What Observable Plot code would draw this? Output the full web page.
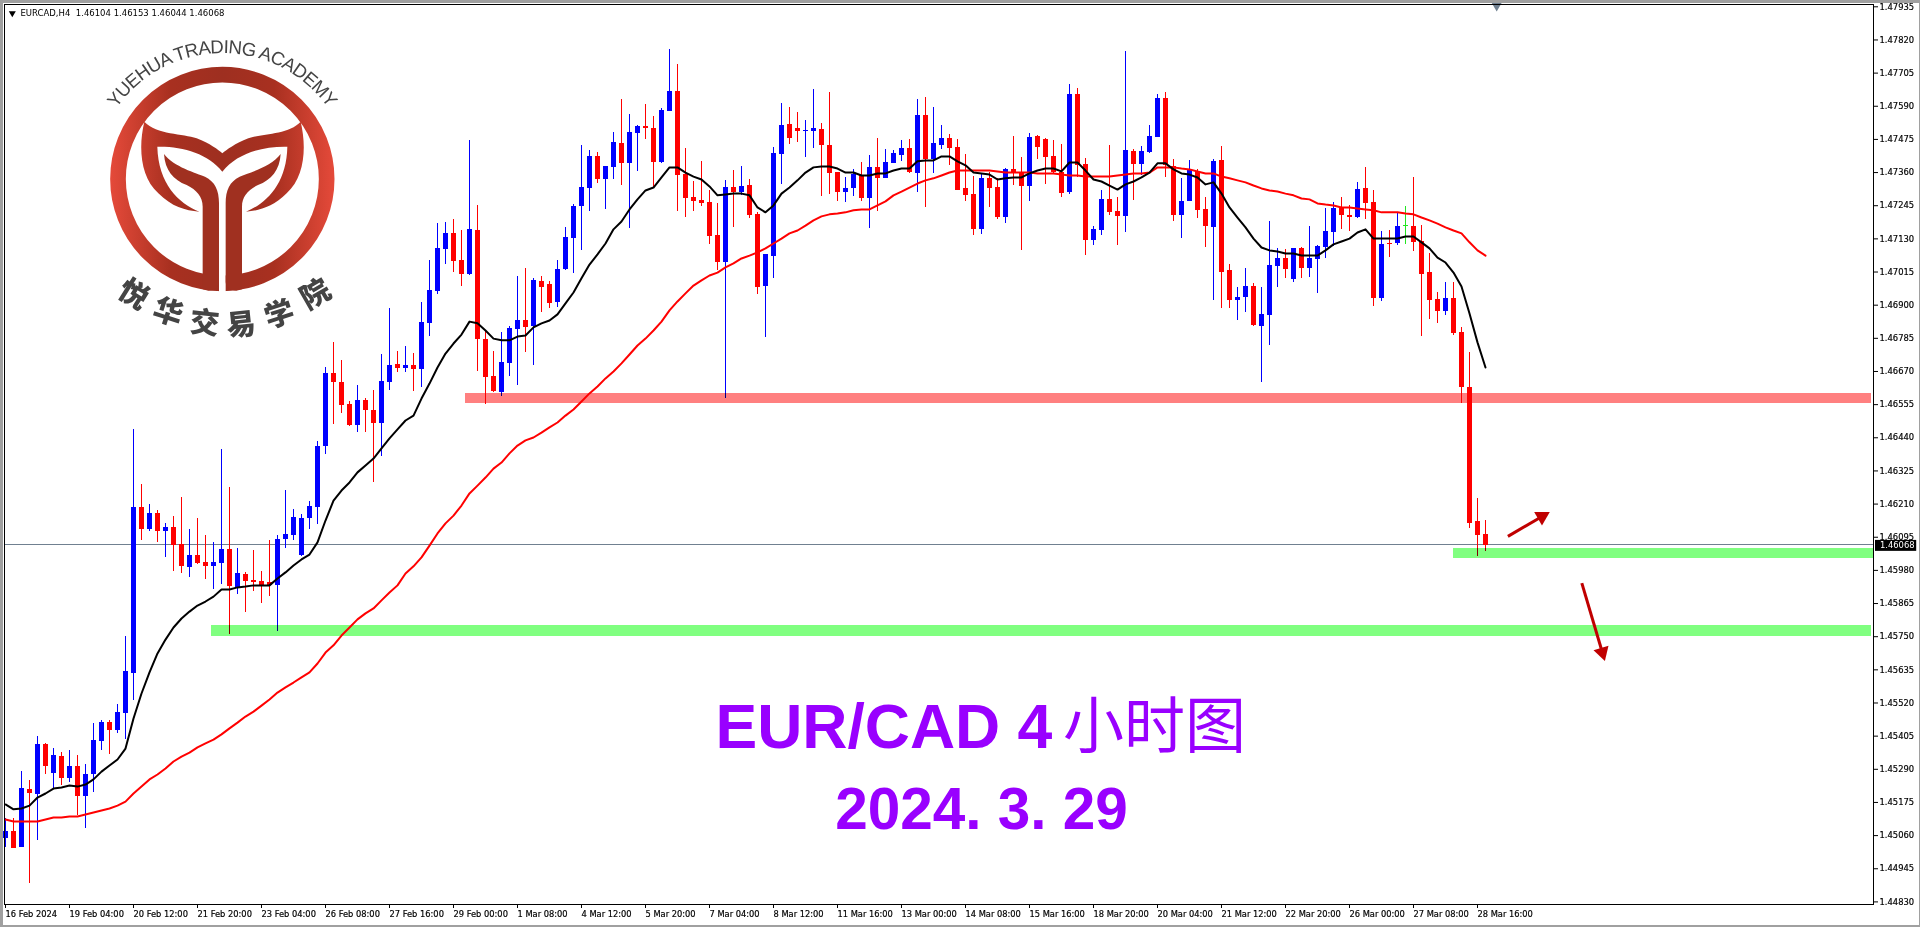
<!DOCTYPE html>
<html><head><meta charset="utf-8">
<script src="https://cdn.jsdelivr.net/npm/d3@7"></script>
<script src="https://cdn.jsdelivr.net/npm/@observablehq/plot@0.6"></script>
<style>
html,body{margin:0;padding:0;background:#fff;overflow:hidden}
#wrap{position:relative;width:1920px;height:927px;overflow:hidden}
#win{position:absolute;inset:0;box-sizing:border-box;border:solid #a0a0a0;border-width:3px 1px 2px 3px;pointer-events:none}
#logo{position:absolute;left:90px;top:20px}
#chart svg g[aria-label*="tick label"] text{stroke:#000;stroke-width:.18}
</style></head><body>
<div id="wrap"><div id="chart"></div>
<svg id="logo" width="280" height="330" viewBox="0 0 840 990">
<defs>
<linearGradient id="g" gradientUnits="userSpaceOnUse" x1="60" x2="734" y1="0" y2="0">
<stop offset="0" stop-color="#e54a3a"/><stop offset=".27" stop-color="#a83020"/><stop offset=".5" stop-color="#9e2f20"/><stop offset=".73" stop-color="#a83020"/><stop offset="1" stop-color="#e54a3a"/></linearGradient>
<path id="arc" d="M60,295 A388,388 0 0 1 734,295"/>
</defs>
<circle cx="397" cy="477" r="313" fill="none" stroke="url(#g)" stroke-width="47"/>
<path fill="url(#g)" d="M163,305 C200,345 280,340 320,355 C360,370 385,390 397,400 C410,390 435,370 475,355 C515,340 595,345 632,305 C650,380 645,470 590,520 C550,560 510,572 468,575 C530,550 590,490 592,380 C520,378 440,400 397,455 C355,400 275,378 202,380 C205,490 265,550 328,575 C285,572 245,560 205,520 C150,470 145,380 163,305 Z"/>
<rect x="387" y="560" width="20" height="270" fill="#fff"/>
<path id="st" fill="#a03020" d="M222,402 C250,440 320,460 345,470 C375,485 387,510 387,550 L387,785 C387,800 372,812 355,812 L338,808 L338,560 C338,530 320,510 290,495 C250,480 225,450 222,402 Z"/>
<path fill="#a03020" d="M572,402 C544,440 474,460 449,470 C419,485 407,510 407,550 L407,785 C407,800 422,812 439,812 L456,808 L456,560 C456,530 474,510 504,495 C544,480 569,450 572,402 Z"/>
<text font-family="Liberation Sans" font-size="56" fill="#444"><textPath href="#arc" startOffset="50%" text-anchor="middle" textLength="745">YUEHUA TRADING ACADEMY</textPath></text>
<g font-family="Noto Sans CJK SC" font-weight="900" font-size="88" fill="#444" text-anchor="middle" dominant-baseline="central">
<text transform="translate(135,815) rotate(32)">悦</text>
<text transform="translate(237,868) rotate(18)">华</text>
<text transform="translate(345,900) rotate(6)">交</text>
<text transform="translate(452,905) rotate(-6)">易</text>
<text transform="translate(565,875) rotate(-18)">学</text>
<text transform="translate(672,815) rotate(-30)">院</text>
</g>
</svg>
<div id="win"></div></div>
<script>
// Prices are listed in points: price = points / 100000
const opens = [145050,145074,145019,145220,145203,145376,145275,145334,145258,145300,
145196,145272,145386,145452,145425,145484,145622,146198,146122,146177,
146115,146129,146070,145990,146032,146007,145994,146004,146053,145921,
145966,145945,145941,145938,145928,146087,146101,146032,146160,146198,
146410,146663,146632,146556,146483,146569,146535,146490,146632,146694,
146680,146691,146677,146837,146948,147093,147149,147055,147007,147159,
146781,146653,146597,146698,146816,146847,146826,146982,146972,146909,
147024,147131,147242,147305,147416,147336,147378,147461,147392,147496,
147520,147513,147395,147572,147641,147353,147274,147263,147256,147142,
147048,147308,147291,147315,147215,146965,147069,147423,147527,147513,
147503,147503,147510,147454,147360,147291,147305,147350,147270,147378,
147340,147392,147419,147444,147357,147558,147405,147454,147478,147447,
147305,147284,147163,147340,147308,147204,147371,147360,147312,147485,
147475,147416,147360,147291,147631,147388,147124,147159,147267,147225,
147208,147433,147388,147430,147482,147617,147381,147211,147260,147364,
147232,147170,147402,147020,146916,146927,146965,146826,146864,147034,
147062,146989,147097,147027,147059,147100,147152,147239,147211,147204,
147305,147256,146923,147114,147114,147176,147173,147121,147013,146920,
146878,146923,146805,146614,146150,146104];
const highs = [145119,145119,145282,145251,145404,145380,145362,145348,145355,145338,
145307,145449,145459,145459,145515,145751,146469,146278,146209,146188,
146143,146167,146233,146122,146160,146101,146077,146399,146268,146056,
145973,146049,145976,146084,146101,146257,146191,146174,146219,146427,
146684,146771,146708,146566,146621,146576,146604,146729,146889,146739,
146757,146732,146909,147055,147183,147187,147197,147159,147471,147246,
146812,146739,146805,146826,147000,147027,146993,147000,146982,147055,
147170,147249,147454,147437,147430,147381,147499,147614,147562,147523,
147596,147555,147582,147787,147735,147444,147329,147399,147298,147253,
147333,147367,147381,147336,147222,147076,147447,147600,147586,147568,
147541,147648,147530,147638,147360,147343,147371,147395,147419,147478,
147440,147437,147471,147475,147614,147621,147586,147523,147492,147475,
147423,147346,147357,147360,147340,147374,147485,147412,147496,147489,
147478,147471,147457,147666,147652,147409,147173,147298,147454,147274,
147780,147440,147451,147523,147631,147638,147405,147340,147402,147371,
147274,147405,147451,147041,146961,147027,146975,146961,147190,147097,
147093,147097,147100,147173,147107,147235,147256,147274,147246,147326,
147378,147298,147156,147159,147222,147242,147343,147176,147079,146944,
146979,146979,146823,146736,146229,146153];
const lows = [145019,145015,145019,144894,145043,145272,145223,145234,145244,145130,
145085,145210,145355,145341,145414,145393,145529,146084,146115,146077,
146025,145976,145969,145955,146001,145948,145914,145931,145758,145896,
145834,145907,145865,145889,145768,146056,146084,146028,146122,146139,
146382,146486,146524,146479,146458,146458,146285,146375,146604,146666,
146666,146601,146614,146791,146937,147041,147013,146965,147003,146670,
146556,146597,146583,146653,146621,146736,146691,146875,146889,146892,
147020,147010,147090,147225,147322,147232,147336,147315,147166,147364,
147475,147308,147392,147572,147225,147204,147225,147242,147111,147020,
146576,147170,147281,147201,146937,146788,146993,147319,147457,147464,
147412,147444,147277,147284,147260,147256,147277,147260,147166,147225,
147340,147392,147399,147357,147291,147239,147357,147440,147385,147298,
147260,147142,147145,147239,147197,147183,147315,147090,147260,147405,
147319,147357,147274,147284,147343,147072,147107,147142,147211,147107,
147152,147263,147350,147426,147482,147343,147190,147131,147260,147201,
147100,146916,146889,146889,146847,146875,146826,146632,146760,146961,
146993,146979,146993,146996,146941,147062,147104,147163,147156,147201,
147197,146895,146913,147065,147107,147111,147086,146791,146850,146837,
146864,146795,146559,146125,146028,146044];
const closes = [145074,145015,145223,145206,145376,145300,145338,145258,145300,145196,
145272,145390,145452,145425,145487,145629,146198,146122,146177,146115,
146129,146066,145994,146032,146004,145994,146007,146053,145924,145969,
145941,145938,145928,145928,146087,146105,146164,146160,146202,146410,
146663,146632,146552,146483,146569,146535,146490,146635,146691,146680,
146691,146677,146840,146951,147097,147149,147052,147007,147163,146781,
146649,146601,146701,146819,146847,146823,146986,146961,146906,147024,
147135,147242,147308,147416,147336,147381,147464,147392,147499,147520,
147513,147395,147575,147641,147350,147270,147260,147253,147138,147048,
147308,147291,147312,147211,146961,147076,147426,147523,147478,147503,
147506,147513,147454,147357,147291,147305,147353,147270,147378,147340,
147395,147426,147444,147360,147558,147405,147461,147478,147444,147298,
147281,147163,147340,147305,147204,147371,147360,147312,147482,147447,
147412,147360,147287,147631,147385,147124,147163,147267,147222,147208,
147437,147388,147433,147485,147617,147385,147211,147260,147367,147229,
147173,147399,147013,146916,146927,146965,146830,146868,147038,147062,
147024,147097,147027,147062,147104,147156,147235,147211,147204,147301,
147253,146923,147111,147111,147173,147173,147118,147007,146916,146878,
146923,146802,146614,146143,146101,146068];
const fastMA = [145168,145151,145154,145164,145192,145206,145223,145227,145234,145230,
145237,145255,145282,145303,145324,145362,145466,145553,145626,145692,
145740,145782,145813,145837,145858,145872,145889,145914,145914,145921,
145924,145928,145928,145928,145952,145973,145997,146018,146035,146077,
146153,146222,146257,146285,146320,146344,146368,146403,146438,146469,
146500,146517,146576,146628,146684,146732,146767,146798,146843,146837,
146812,146784,146778,146778,146791,146795,146823,146837,146847,146868,
146906,146944,146993,147041,147076,147114,147163,147190,147232,147267,
147298,147308,147343,147378,147378,147360,147346,147336,147312,147281,
147284,147287,147287,147281,147239,147222,147246,147287,147308,147333,
147360,147378,147381,147381,147374,147360,147360,147350,147350,147357,
147357,147367,147374,147374,147399,147402,147402,147416,147416,147399,
147385,147360,147357,147353,147336,147340,147343,147343,147357,147367,
147374,147374,147364,147395,147395,147367,147336,147329,147315,147301,
147319,147329,147343,147360,147392,147392,147371,147357,147353,147343,
147319,147326,147287,147239,147204,147170,147131,147100,147090,147086,
147079,147079,147072,147072,147072,147090,147111,147121,147131,147152,
147163,147131,147131,147131,147131,147138,147138,147118,147097,147065,
147048,147013,146965,146871,146771,146684];
const slowMA = [145116,145109,145109,145109,145109,145116,145123,145123,145126,145126,
145133,145140,145147,145154,145164,145178,145206,145230,145255,145272,
145293,145317,145334,145348,145366,145380,145393,145411,145432,145452,
145473,145490,145511,145532,145556,145574,145591,145609,145626,145657,
145695,145720,145754,145782,145810,145831,145848,145876,145903,145928,
145969,145994,146025,146066,146108,146143,146170,146205,146247,146274,
146302,146333,146354,146386,146413,146431,146441,146458,146476,146493,
146517,146538,146566,146594,146618,146646,146670,146698,146729,146760,
146784,146812,146843,146882,146913,146941,146968,146986,147003,147013,
147031,147045,147062,147072,147083,147097,147114,147131,147149,147159,
147176,147194,147208,147215,147218,147222,147229,147232,147232,147246,
147260,147281,147294,147308,147322,147333,147340,147350,147360,147367,
147367,147367,147367,147367,147364,147360,147360,147360,147360,147357,
147357,147357,147353,147350,147350,147346,147346,147346,147346,147350,
147353,147357,147357,147360,147378,147378,147378,147374,147371,147364,
147357,147357,147346,147340,147333,147326,147315,147305,147298,147294,
147287,147281,147270,147267,147253,147249,147246,147239,147239,147235,
147232,147229,147222,147222,147222,147218,147215,147204,147194,147183,
147170,147159,147149,147118,147090,147072];
const dateLabels = ["16 Feb 2024","19 Feb 04:00","20 Feb 12:00","21 Feb 20:00","23 Feb 04:00","26 Feb 08:00","27 Feb 16:00","29 Feb 00:00","1 Mar 08:00","4 Mar 12:00","5 Mar 20:00","7 Mar 04:00","8 Mar 12:00","11 Mar 16:00","13 Mar 00:00","14 Mar 08:00","15 Mar 16:00","18 Mar 20:00","20 Mar 04:00","21 Mar 12:00","22 Mar 20:00","26 Mar 00:00","27 Mar 08:00","28 Mar 16:00"];
const priceTicks = [1.47935,1.47820,1.47705,1.47590,1.47475,1.47360,1.47245,1.47130,1.47015,1.46900,1.46785,1.46670,1.46555,1.46440,1.46325,1.46210,1.46095,1.45980,1.45865,1.45750,1.45635,1.45520,1.45405,1.45290,1.45175,1.45060,1.44945,1.44830];
const lastPrice = 1.46068;
const resistance = [{x1:57.5,x2:233.25,y1:1.46559,y2:1.46594}];
const supports = [{x1:181,x2:233.6,y1:1.46021,y2:1.46056},{x1:25.75,x2:233.25,y1:1.45752,y2:1.45789}];
const arrows = [{x1:187.8,y1:1.46098,x2:192.06,y2:1.46167,rot:60},{x1:197.04,y1:1.45936,x2:199.6,y2:1.45696,rot:163.4}];
const DOJI = 175;

const candles = opens.map((o,i)=>({i,o:o/1e5,h:highs[i]/1e5,l:lows[i]/1e5,c:closes[i]/1e5,
  col:i===DOJI?"#22e622":closes[i]>o?"#0000ff":"#ff0000"}));
const lineOf = a=>a.map((v,i)=>({i,v:v/1e5}));
const axisFont="DejaVu Sans";
const crisp={shapeRendering:"crispEdges"};

const plot = Plot.plot({
  width:1920,height:927,marginLeft:4,marginRight:47,marginTop:4,marginBottom:23,
  style:{background:"#fff",overflow:"visible"},
  x:{type:"linear",domain:[-0.125,233.5]},
  y:{domain:[1.44821,1.47943]},
  marks:[
    Plot.ruleY([lastPrice],{stroke:"#708090",dy:-0.5,...crisp}),
    Plot.ruleX(candles,{x:"i",y1:"l",y2:"h",stroke:"col",strokeWidth:1,...crisp}),
    Plot.ruleX(candles,{x:"i",y1:"o",y2:"c",stroke:"col",strokeWidth:5,...crisp}),
    Plot.rect(resistance,{x1:"x1",x2:"x2",y1:"y1",y2:"y2",fill:"#ff8080",mixBlendMode:"multiply",...crisp}),
    Plot.rect(supports,{x1:"x1",x2:"x2",y1:"y1",y2:"y2",fill:"#80ff80",mixBlendMode:"multiply",...crisp}),
    Plot.line(lineOf(slowMA),{x:"i",y:"v",stroke:"#ff0000",strokeWidth:2,curve:"linear"}),
    Plot.line(lineOf(fastMA),{x:"i",y:"v",stroke:"#000000",strokeWidth:2,curve:"linear"}),
    Plot.link(arrows,{x1:"x1",y1:"y1",x2:"x2",y2:"y2",stroke:"#c00000",strokeWidth:3}),
    Plot.dot(arrows,{x:"x2",y:"y2",symbol:"triangle",r:5.8,fill:"#c00000",rotate:"rot"}),
    Plot.dot([{x:186.4,y:1.47940}],{x:"x",y:"y",symbol:"triangle",r:4,fill:"#708090",rotate:180}),
    Plot.frame({stroke:"#000"}),
    Plot.axisX({anchor:"bottom",ticks:dateLabels.map((_,k)=>k*8),tickFormat:i=>dateLabels[i/8],tickSize:4,tickPadding:3,textAnchor:"start",fontFamily:axisFont,fontSize:8.3,label:null,color:"#000"}),
    Plot.axisY({anchor:"right",ticks:priceTicks,tickFormat:d=>d.toFixed(5),tickSize:4,tickPadding:2,fontFamily:axisFont,fontSize:8.4,label:null,color:"#000"}),
    Plot.rect([{}],{x1:()=>233.75,x2:()=>238.9,y1:()=>1.46046,y2:()=>1.46084,fill:"#000"}),
    Plot.text([lastPrice],{x:()=>234.3,y:d=>d,text:d=>d.toFixed(5),fill:"#fff",textAnchor:"start",fontFamily:axisFont,fontSize:8.4}),
    Plot.dot([{x:0.85,y:1.47913}],{x:"x",y:"y",symbol:"triangle",r:2.6,fill:"#000",rotate:180}),
    Plot.text(["EURCAD,H4  1.46104 1.46153 1.46044 1.46068"],{x:()=>1.875,y:()=>1.47913,text:d=>d,textAnchor:"start",fontFamily:axisFont,fontSize:8.5,fill:"#000"}),
    Plot.text(["EUR/CAD 4"],{x:()=>88.75,y:()=>1.45432,text:d=>d,textAnchor:"start",fontFamily:"Liberation Sans",fontWeight:700,fontSize:62.5,fill:"#9900ff"}),
    Plot.text(["小时图"],{x:()=>132.2,y:()=>1.45432,text:d=>d,textAnchor:"start",fontFamily:"Noto Sans CJK SC",fontWeight:400,fontSize:61,fill:"#9900ff"}),
    Plot.text(["2024. 3. 29"],{x:()=>122,y:()=>1.45147,text:d=>d,textAnchor:"middle",fontFamily:"Liberation Sans",fontWeight:700,fontSize:58.5,fill:"#9900ff"})
  ]
});
document.getElementById("chart").appendChild(plot);
</script>
</body></html>
